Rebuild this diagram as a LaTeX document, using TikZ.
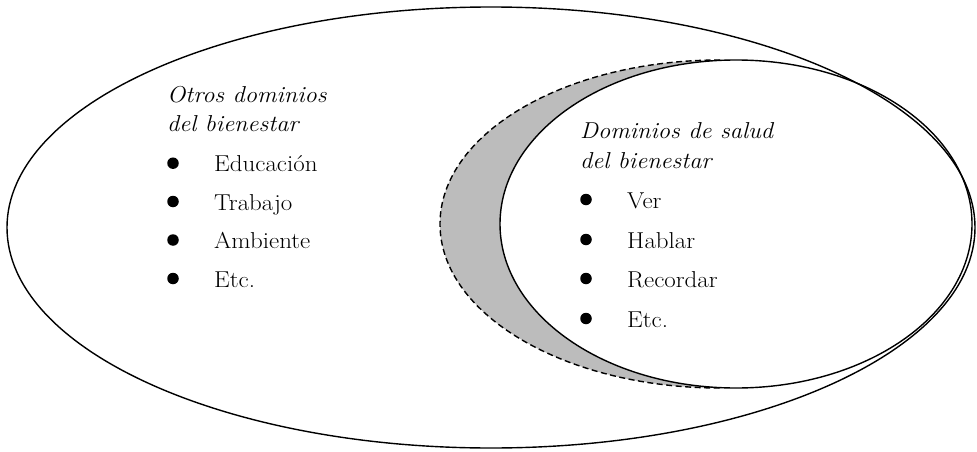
\documentclass[tikz,border=0pt]{standalone}
\usetikzlibrary{positioning}
\newcommand{\hx}[1]{\scalebox{1.06}[1]{#1}}
\newcommand{\ix}[1]{\scalebox{1.085}[1]{#1}}
\tikzset{
  line/.style={line width=1.4pt, black},
  dashline/.style={line width=1.4pt, black, dash pattern=on 6pt off 3.5pt},
  hdr/.style={anchor=base west, inner sep=0pt, font=\fontsize{23}{27}\selectfont\itshape},
  itm/.style={anchor=base west, inner sep=0pt, font=\fontsize{23}{27}\selectfont},
  bul/.style={circle, fill=black, inner sep=0pt, minimum size=11.5pt},
}
\definecolor{crescent}{RGB}{188,188,188}
\begin{document}
\begin{tikzpicture}[x=1pt, y=-1pt]
\useasboundingbox (0,0) rectangle (977,452);
% grey crescent
\fill[crescent] (720,60) arc[start angle=90, end angle=270, x radius=280pt, y radius=164pt] -- cycle;
\fill[white] (736,224) ellipse[x radius=236pt, y radius=164pt];
% dashed arc
\draw[dashline] (720,60) arc[start angle=90, end angle=270, x radius=280pt, y radius=164pt];
% inner ellipse
\draw[line] (736,224) ellipse[x radius=236pt, y radius=164pt];
% outer ellipse
\draw[line] (491,227.5) ellipse[x radius=484pt, y radius=220.5pt];
% left block
\node[hdr] (l1) at (167,102.5) {\hx{Otros dominios}};
\node[hdr] (l2) at (167,131) {\hx{del bienestar}};
\node[bul] (lb1) at (173,163.2) {};
\node[itm] (li1) at (214,171.7) {\ix{Educación}};
\node[bul] (lb2) at (173,201.5) {};
\node[itm] (li2) at (214,210) {\ix{Trabajo}};
\node[bul] (lb3) at (173,240) {};
\node[itm] (li3) at (214,248.5) {\ix{Ambiente}};
\node[bul] (lb4) at (173,278.5) {};
\node[itm] (li4) at (214,287) {\ix{Etc.}};
% right block
\node[hdr] (r1) at (580,138) {\hx{Dominios de salud}};
\node[hdr] (r2) at (580,168) {\hx{del bienestar}};
\node[bul] (rb1) at (586,199.5) {};
\node[itm] (ri1) at (627,208) {\ix{Ver}};
\node[bul] (rb2) at (586,239.5) {};
\node[itm] (ri2) at (627,248) {\ix{Hablar}};
\node[bul] (rb3) at (586,278.5) {};
\node[itm] (ri3) at (627,287) {\ix{Recordar}};
\node[bul] (rb4) at (586,318.5) {};
\node[itm] (ri4) at (627,327) {\ix{Etc.}};
\end{tikzpicture}
\end{document}
